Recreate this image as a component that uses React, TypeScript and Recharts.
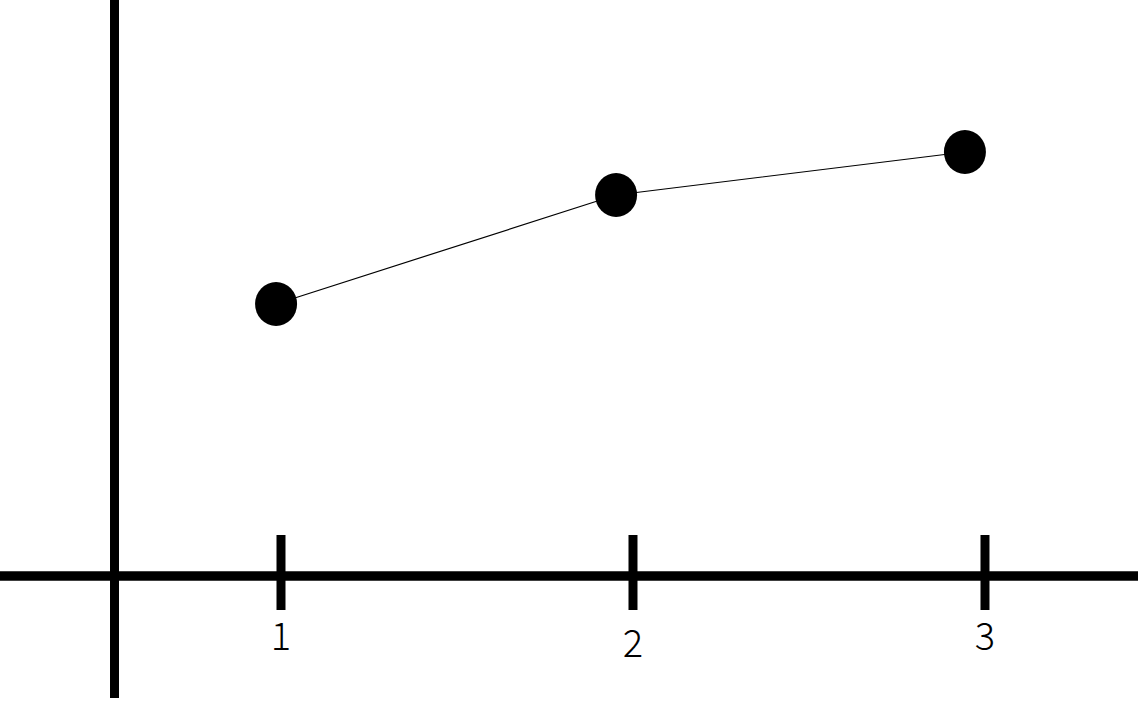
import React from "react";
import { LineChart, Line, XAxis, YAxis, ReferenceLine } from "recharts";

// Points (x in tick units, y in arbitrary units above the x axis)
const pointX = [0.986, 1.952, 2.943];
const pointY = [2.72, 3.81, 4.24];

// Ticks on the horizontal axis
const tickValues = [1, 2, 3];
const tickLabels = ["1", "2", "3"];

// Where the vertical axis crosses the horizontal one
const originX = 0.527;

const data = pointX.map((x, i) => ({ x, y: pointY[i] }));

const W = 1143;
const H = 703;

export default function App() {
  const renderDot = (p: any) => (
    <ellipse key={`dot-${p.index}`} cx={p.cx} cy={p.cy} rx={21} ry={22} fill="#000" />
  );

  const renderTickLabel = (text: string, i: number) => (props: any) => {
    const vb = props.viewBox || {};
    const cx = vb.x + (vb.width || 0) / 2;
    // the hand-drawn "2" sits a little lower than the other two
    const baseline = vb.y + (vb.height || 0) + (i === 1 ? 47 : 40);
    return (
      <text
        x={cx}
        y={baseline}
        textAnchor="middle"
        fontFamily="'Noto Sans CJK JP', 'Noto Sans', sans-serif"
        fontWeight={300}
        fontSize={38}
        fill="#000"
      >
        {text}
      </text>
    );
  };

  return (
    <div style={{ position: "absolute", left: 0, top: 0, width: W, height: H, background: "#fff" }}>
      <LineChart width={W} height={H} data={data} margin={{ top: 0, right: 5, bottom: 5, left: 0 }}>
        <XAxis dataKey="x" type="number" domain={[0.2017, 3.4347]} allowDataOverflow hide />
        <YAxis type="number" domain={[-1.22, 5.76]} allowDataOverflow hide />
        <ReferenceLine x={originX} stroke="#000" strokeWidth={9} />
        <ReferenceLine y={0} stroke="#000" strokeWidth={9.5} />
        {tickValues.map((t, i) => (
          <ReferenceLine
            key={`tick-${t}`}
            segment={[
              { x: t, y: 0.41 },
              { x: t, y: -0.34 },
            ]}
            stroke="#000"
            strokeWidth={9}
            label={renderTickLabel(tickLabels[i], i)}
          />
        ))}
        <Line
          dataKey="y"
          type="linear"
          stroke="#000"
          strokeWidth={1.2}
          dot={renderDot}
          activeDot={false}
          isAnimationActive={false}
        />
      </LineChart>
    </div>
  );
}
